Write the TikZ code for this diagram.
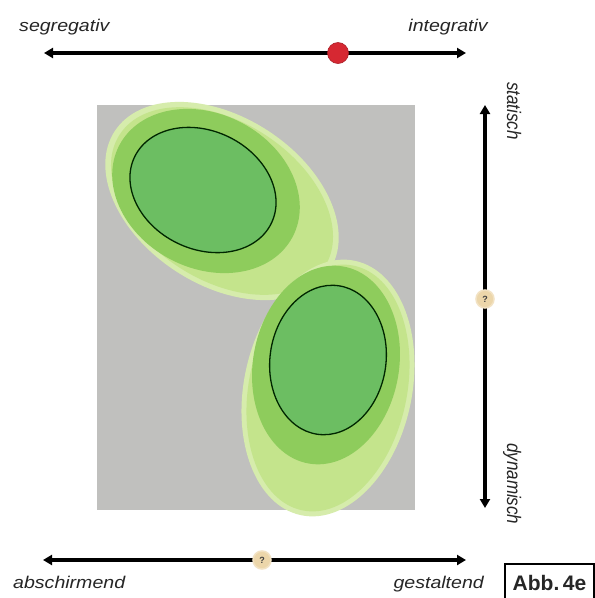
\documentclass[tikz,border=0pt]{standalone}
\usepackage{fontspec}
\setmainfont{Liberation Sans}
\usetikzlibrary{arrows.meta}
\definecolor{bggray}{RGB}{192,192,190}
\definecolor{innergreen}{RGB}{108,190,98}
\definecolor{midgreen}{RGB}{142,204,92}
\definecolor{lightgreen}{RGB}{196,228,140}
\definecolor{palegreen}{RGB}{214,236,172}
\definecolor{dotred}{RGB}{214,40,50}
\definecolor{dotbeige}{RGB}{236,214,170}
\definecolor{labelgray}{RGB}{38,38,38}
\tikzset{
  axis/.style={line width=3.2pt, black, {Triangle[length=9pt,width=10pt]}-{Triangle[length=9pt,width=10pt]}},
  axlabel/.style={font=\fontsize{17}{19}\selectfont\itshape, text=labelgray, inner sep=0pt, xscale=1.15},
  qdot/.style={circle, fill=dotbeige, draw=dotbeige!70!white, line width=1.5pt, minimum size=18pt, inner sep=0pt, font=\fontsize{9}{9}\selectfont\bfseries, text=black!75},
  reddot/.style={circle, fill=dotred, draw=dotred!80!black, line width=0.6pt, minimum size=21pt, inner sep=0pt},
  rim/.style={draw=black!85!green, line width=1.3pt}
}
\begin{document}
\begin{tikzpicture}[x=1pt,y=-1pt]
\useasboundingbox (0,0) rectangle (595,598);
\fill[white] (0,0) rectangle (595,598);

% gray field
\fill[bggray] (97,105) rectangle (415,510);

% upper blob
\begin{scope}[shift={(222,201)}, rotate=-33]
  \fill[palegreen] (0,0) ellipse [x radius=128pt, y radius=84pt];
  \fill[lightgreen] (0,0) ellipse [x radius=122pt, y radius=79pt];
\end{scope}
% lower blob
\begin{scope}[shift={(328,388)}, rotate=-12]
  \fill[palegreen] (0,0) ellipse [x radius=84pt, y radius=130pt];
  \fill[lightgreen] (0,0) ellipse [x radius=79pt, y radius=125pt];
\end{scope}
\begin{scope}[shift={(206,191)}, rotate=-28]
  \fill[midgreen] (0,0) ellipse [x radius=98pt, y radius=77pt];
\end{scope}
\begin{scope}[shift={(326,365)}, rotate=-10]
  \fill[midgreen] (0,0) ellipse [x radius=73pt, y radius=100pt];
\end{scope}
\begin{scope}[shift={(203,190)}, rotate=-26]
  \filldraw[fill=innergreen, rim] (0,0) ellipse [x radius=76pt, y radius=59pt];
\end{scope}
\begin{scope}[shift={(328,360)}, rotate=-8]
  \filldraw[fill=innergreen, rim] (0,0) ellipse [x radius=58pt, y radius=75pt];
\end{scope}

% top axis
\coordinate (tl) at (44,53);
\coordinate (tr) at (466,53);
\draw[axis] (tl) -- (tr);
\node[reddot] (red) at (338,53) {};
\node[axlabel, anchor=base west] (seg) at (19,31) {segregativ};
\node[axlabel, anchor=base east] (int) at (488,31) {integrativ};

% right axis
\coordinate (vt) at (485,105);
\coordinate (vb) at (485,508);
\draw[axis] (vt) -- (vb);
\node[qdot] (q1) at (485,299) {?};
\node[axlabel, rotate=-90, anchor=base west] (stat) at (507,82) {statisch};
\node[axlabel, rotate=-90, anchor=base west] (dyn) at (507,443) {dynamisch};

% bottom axis
\coordinate (bl) at (43,560);
\coordinate (br) at (466,560);
\draw[axis] (bl) -- (br);
\node[qdot] (q2) at (262,560) {?};
\node[axlabel, anchor=base west] (absch) at (13,588) {abschirmend};
\node[axlabel, anchor=base east] (gest) at (484,588) {gestaltend};

% figure label
\draw[line width=1.1pt] (505,602) -- (505,564) -- (594,564) -- (594,602);
\node[font=\fontsize{21}{22}\selectfont\bfseries, text=black!85, anchor=base] (abb) at (549.5,590) {Abb.\,4e};
\end{tikzpicture}
\end{document}
